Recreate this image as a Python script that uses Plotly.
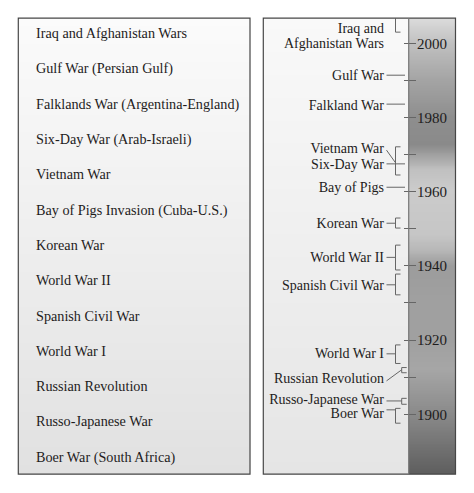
import plotly.graph_objects as go

# Left panel list (top to bottom)
left_labels = [
    "Iraq and Afghanistan Wars",
    "Gulf War (Persian Gulf)",
    "Falklands War (Argentina-England)",
    "Six-Day War (Arab-Israeli)",
    "Vietnam War",
    "Bay of Pigs Invasion (Cuba-U.S.)",
    "Korean War",
    "World War II",
    "Spanish Civil War",
    "World War I",
    "Russian Revolution",
    "Russo-Japanese War",
    "Boer War (South Africa)",
]

# Timeline text lines and the year each one sits at
label_text = [
    "Iraq and", "Afghanistan Wars", "Gulf War", "Falkland War", "Vietnam War",
    "Six-Day War", "Bay of Pigs", "Korean War", "World War II",
    "Spanish Civil War", "World War I", "Russian Revolution",
    "Russo-Japanese War", "Boer War",
]
label_years = [2003.6, 1999.6, 1991.1, 1983.0, 1971.3, 1967.1, 1960.8, 1951.1,
               1942.0, 1934.5, 1916.0, 1909.3, 1903.7, 1899.9]

# one entry per war: connector line (label end -> bracket) and bracket span
wars = [
    "Iraq and Afghanistan Wars", "Gulf War", "Falkland War", "Vietnam War",
    "Six-Day War", "Bay of Pigs", "Korean War", "World War II",
    "Spanish Civil War", "World War I", "Russian Revolution",
    "Russo-Japanese War", "Boer War",
]
line_from = [None, 1991.4, 1983.6, 1971.2, 1967.5, 1961.2, 1951.5,
             1942.3, 1934.9, 1916.3, 1909.0, 1903.6, 1901.2]
line_to = [None, 1991.4, 1983.6, 1967.8, 1967.5, 1961.2, 1951.5,
           1942.3, 1934.9, 1916.3, 1912.0, 1903.6, 1901.2]
bracket_top = [2006.7, None, None, 1972.1, None, None, 1952.9,
               1945.6, 1937.8, 1918.7, 1912.6, 1904.3, 1901.6]
bracket_bottom = [2003.0, None, None, 1964.5, None, None, 1950.2,
                  1938.9, 1932.2, 1913.7, 1911.2, 1902.7, 1897.6]
ongoing = ["Iraq and Afghanistan Wars"]

major_years = [1900, 1920, 1940, 1960, 1980, 2000]
minor_years = [1910, 1930, 1950, 1970, 1990]

# strip shading: (year, grey level)
strip_stops = [(1883.9, 94), (1900, 138), (1912, 166), (1920, 160), (1931, 160),
               (1940, 156), (1944.3, 184), (1948.4, 198), (1960.5, 203),
               (1965.9, 192), (1969.9, 160), (1972.6, 138), (1980, 142),
               (1990, 164), (2000, 192), (2006.8, 220)]

Y0, Y1 = 1883.9, 2006.8
FONT = "Liberation Serif"
INK = "#1e1c1c"
LINE = "#666666"

# x positions (page pixels) of the parts of the timeline
X_LINE0 = 386.5
X_BR_NEAR, X_BR_FAR, ARM = 395.5, 401.7, 5.0
X_EDGE = 405.0
far_bracket = ["Russian Revolution", "Russo-Japanese War"]

fig = go.Figure()

# gradient backgrounds
grid = [Y0 + i * 0.25 for i in range(int((Y1 - Y0) / 0.25) + 1)]
zcol = [[g] for g in grid]


def scale(stops):
    return [[(yr - Y0) / (Y1 - Y0), f"rgb({v},{v},{v})"] for yr, v in stops]


for xs, stops in [([18.3, 250.0], [(Y0, 225), (Y1, 251)]),
                  ([263.3, 408.7], [(Y0, 229), (Y1, 249)]),
                  ([408.7, 455.5], strip_stops)]:
    fig.add_trace(go.Heatmap(
        x=xs, y=grid, z=zcol, zmin=Y0, zmax=Y1,
        colorscale=scale(stops), showscale=False, hoverinfo="skip"
    ))

# connectors and brackets
lx, ly, bx, by = [], [], [], []
for i, name in enumerate(wars):
    xb = X_BR_FAR if name in far_bracket else X_BR_NEAR
    if line_from[i] is not None:
        end = X_EDGE if bracket_top[i] is None else xb
        lx += [X_LINE0, end, None]
        ly += [line_from[i], line_to[i], None]
    if bracket_top[i] is not None:
        if name in ongoing:
            bx += [xb, xb, xb + ARM, None]
            by += [bracket_top[i], bracket_bottom[i], bracket_bottom[i], None]
        else:
            bx += [xb + ARM, xb, xb, xb + ARM, None]
            by += [bracket_top[i], bracket_top[i], bracket_bottom[i],
                   bracket_bottom[i], None]

fig.add_trace(go.Scatter(x=lx, y=ly, mode="lines", line=dict(color=LINE, width=1),
                         hoverinfo="skip"))
fig.add_trace(go.Scatter(x=bx, y=by, mode="lines", line=dict(color=LINE, width=1),
                         hoverinfo="skip"))

# labels
fig.add_trace(go.Scatter(
    x=[384.0] * len(label_text), y=label_years, text=label_text,
    mode="text", textposition="middle left",
    textfont=dict(family=FONT, size=14, color=INK), hoverinfo="skip"
))
fig.add_trace(go.Scatter(
    x=[36.0] * len(left_labels), y=left_labels, yaxis="y2", text=left_labels,
    mode="text", textposition="middle right",
    textfont=dict(family=FONT, size=14.2, color=INK), hoverinfo="skip"
))

# panel frames
for x0, x1 in [(18.3, 250.0), (263.3, 455.5)]:
    fig.add_shape(type="rect", xref="x", yref="y", x0=x0, x1=x1, y0=Y0, y1=Y1,
                  line=dict(color="#474747", width=1.2), layer="above")
fig.add_shape(type="line", xref="x", yref="y", x0=408.7, x1=408.7, y0=Y0, y1=Y1,
              line=dict(color="#777777", width=1.2), layer="above")

# the page has an 8px body margin, so the axes are laid out in page pixels
fig.update_layout(
    width=474, height=493,
    margin=dict(l=0, r=0, t=0, b=0),
    paper_bgcolor="white", plot_bgcolor="white",
    showlegend=False,
    xaxis=dict(range=[8, 482], visible=False, fixedrange=True),
    yaxis=dict(
        range=[1876.63, 2009.51], anchor="free", position=(403 - 8) / 474,
        side="right",
        tickvals=major_years, ticktext=[str(y) for y in major_years],
        ticks="outside", ticklen=12, tickwidth=1, tickcolor=LINE,
        ticklabelstandoff=-2,
        tickfont=dict(family=FONT, size=15, color=INK),
        minor=dict(tickvals=minor_years, ticks="outside", ticklen=12,
                   tickwidth=1, tickcolor=LINE),
        showline=False, showgrid=False, zeroline=False, fixedrange=True
    ),
    yaxis2=dict(
        overlaying="y", type="category", categoryarray=left_labels,
        range=[13.212, -0.7535], visible=False, fixedrange=True
    ),
)

fig.write_html("out.html")
